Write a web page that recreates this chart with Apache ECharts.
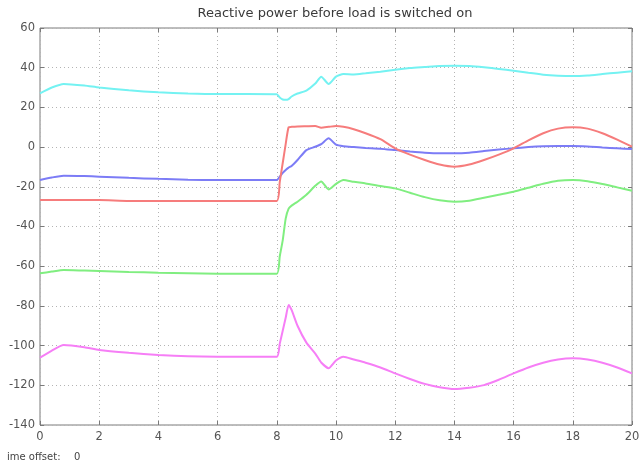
<!DOCTYPE html>
<html>
<head>
<meta charset="utf-8">
<script src="https://cdn.jsdelivr.net/npm/echarts@6/dist/echarts.min.js"></script>
<style>
  html, body { margin: 0; padding: 0; background: #fff; }
  #chart { width: 639px; height: 465px; }
</style>
</head>
<body>
<div id="chart"></div>
<script>
// Simulation time (s)
const time = [0,0.4,0.8,1.5,2,3,4,5,6,7,8,8.1,8.2,8.3,8.4,8.5,8.7,9,9.3,9.5,9.75,10,10.25,10.6,11,11.5,12,12.5,13,13.5,14,14.5,15,15.5,16,16.5,17,17.5,18,18.5,19,19.5,20];

// Reactive power traces
const qCyan = [27.1,30,31.8,31,30,28.6,27.6,27,26.7,26.7,26.6,25,24,23.8,24.2,25.5,27,28.5,32,35.5,31.8,35.5,36.8,36.6,37.2,38,39,39.8,40.3,40.8,41,40.8,40.2,39.4,38.5,37.4,36.5,36,35.8,36.1,36.8,37.5,38.2];
const qRed = [-26.6,-26.6,-26.6,-26.6,-26.6,-27.1,-27.1,-27.1,-27.1,-27.1,-27.1,-17.5,-8,1.5,10,10.2,10.4,10.5,10.6,9.8,10.2,10.6,10.2,9,7,4,-0.6,-3.8,-6.5,-8.8,-9.9,-8.8,-6.5,-3.8,-0.6,3.4,7,9.3,10,9.3,7,3.8,0.2];
const qBlue = [-16.6,-15.3,-14.4,-14.6,-14.9,-15.5,-16,-16.4,-16.6,-16.6,-16.6,-14.9,-13,-11.5,-10.3,-9.5,-6.5,-1.5,0.2,1.5,4.4,1.2,0.4,0,-0.4,-0.8,-1.5,-2.2,-2.8,-3.1,-3.1,-2.8,-2,-1.2,-0.6,0,0.4,0.55,0.55,0.3,-0.2,-0.6,-1];
const qGreen = [-63.6,-62.7,-61.9,-62.2,-62.4,-62.9,-63.3,-63.6,-63.8,-63.8,-63.8,-55,-47,-36,-31,-29.5,-27.5,-24,-19.5,-17.3,-21.3,-18.5,-16.6,-17.5,-18.3,-19.6,-20.8,-23,-25.2,-26.8,-27.5,-27,-25.5,-24,-22.5,-20.5,-18.5,-17,-16.6,-17.2,-18.6,-20.3,-22];
const qMagenta = [-106.1,-102.5,-99.7,-100.8,-102.2,-103.6,-104.7,-105.4,-105.6,-105.6,-105.6,-99,-92.5,-86,-79.5,-82,-90,-98.5,-104,-108.5,-111.4,-107.5,-105.6,-107,-108.6,-111,-114,-116.8,-119.3,-121,-121.9,-121.2,-119.9,-117.2,-114,-111,-108.6,-107,-106.4,-107,-108.6,-111,-114];

const titleText = 'Reactive power before load is switched on';
const offsetLabel = 'ime offset:';
const offsetValue = '0';

const traces = [
  { data: qCyan, color: '#74f2f2' },
  { data: qGreen, color: '#80ee80' },
  { data: qBlue, color: '#7c7cf6' },
  { data: qRed, color: '#f67c7c' },
  { data: qMagenta, color: '#f67ef6' }
];

const font = 'DejaVu Sans, Verdana, sans-serif';
const frame = '#7a7a7a';
const gridDots = { show: true, lineStyle: { color: '#b4b4b4', type: [1, 3], width: 1 } };
const hiddenLine = { show: false, onZero: false };
const innerTick = { show: true, inside: true, length: 4, lineStyle: { color: frame } };

const chart = echarts.init(document.getElementById('chart'), null, { renderer: 'canvas' });
chart.setOption({
  animation: false,
  backgroundColor: '#ffffff',
  grid: {
    left: 40, right: 7, top: 28, bottom: 40,
    outerBoundsMode: 'none', containLabel: false,
    show: true, borderColor: frame, borderWidth: 1, backgroundColor: 'transparent'
  },
  xAxis: [
    {
      type: 'value', min: 0, max: 20, interval: 2,
      axisLine: hiddenLine, axisTick: innerTick,
      axisLabel: { fontFamily: font, fontSize: 11.5, color: '#555', margin: 6 },
      splitLine: gridDots
    },
    {
      type: 'value', min: 0, max: 20, interval: 2, position: 'top',
      axisLine: hiddenLine, axisTick: innerTick,
      axisLabel: { show: false }, splitLine: { show: false }
    }
  ],
  yAxis: [
    {
      type: 'value', min: -140, max: 60, interval: 20,
      axisLine: hiddenLine, axisTick: innerTick,
      axisLabel: { fontFamily: font, fontSize: 11.5, color: '#555', margin: 5 },
      splitLine: gridDots
    },
    {
      type: 'value', min: -140, max: 60, interval: 20, position: 'right',
      axisLine: hiddenLine, axisTick: innerTick,
      axisLabel: { show: false }, splitLine: { show: false }
    }
  ],
  graphic: [
    { type: 'text', x: 335, y: 14, style: { text: titleText, fontFamily: font, fontSize: 13, fill: '#3a3a3a', align: 'center', verticalAlign: 'middle' } },
    { type: 'text', left: 7, top: 452, style: { text: offsetLabel, fontFamily: font, fontSize: 10, fill: '#444' } },
    { type: 'text', left: 74, top: 452, style: { text: offsetValue, fontFamily: font, fontSize: 10, fill: '#444' } }
  ],
  series: traces.map(t => ({
    type: 'line',
    data: time.map((x, i) => [x, t.data[i]]),
    showSymbol: false,
    smooth: 0.2,
    lineStyle: { color: t.color, width: 2 },
    itemStyle: { color: t.color }
  }))
});
</script>
</body>
</html>
